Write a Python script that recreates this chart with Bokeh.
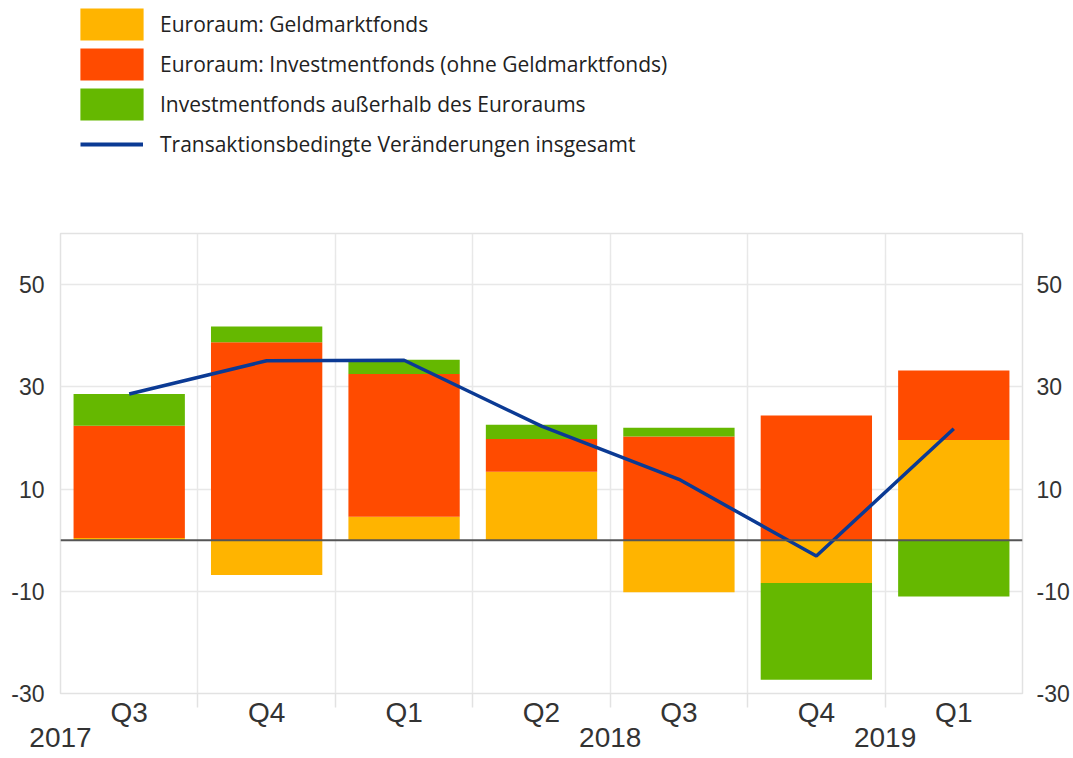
from bokeh.plotting import figure
from bokeh.layouts import column
from bokeh.models import Range1d, FixedTicker, LinearAxis, Span, Legend, LegendItem
from bokeh.embed import file_html
from bokeh.resources import INLINE

# ---- data ----
quarters = ["Q3", "Q4", "Q1", "Q2", "Q3", "Q4", "Q1"]
years = ["2017", "2018", "2019"]
year_positions = [0, 4, 6]
money_market = [0.4, -6.8, 4.6, 13.4, -10.2, -8.4, 19.6]
investment_ex_mmf = [22.0, 38.7, 27.9, 6.4, 20.3, 24.4, 13.6]
non_euro_area = [6.2, 3.1, 2.8, 2.8, 1.7, -18.9, -11.0]
total = [28.6, 35.1, 35.2, 22.3, 11.9, -3.1, 21.8]
y_tick_values = [-30, -10, 10, 30, 50]
y_tick_labels = ["-30", "-10", "10", "30", "50"]

series_names = [
    "Euroraum: Geldmarktfonds",
    "Euroraum: Investmentfonds (ohne Geldmarktfonds)",
    "Investmentfonds außerhalb des Euroraums",
]
line_name = "Transaktionsbedingte Veränderungen insgesamt"
colors = ["#FFB400", "#FF4B00", "#65B800"]
line_color = "#0B3A94"

n = len(quarters)
xs = [i + 0.5 for i in range(n)]

# ---- main chart ----
p = figure(frame_width=962, frame_height=460, output_backend="svg", toolbar_location=None,
           x_range=Range1d(0, n), y_range=Range1d(-30, 60),
           min_border_left=60, min_border_right=51, min_border_top=33, min_border_bottom=65,
           background_fill_color="white", border_fill_color="white")
p.outline_line_color = "#e2e2e2"
p.outline_line_width = 1.5

p.xgrid.ticker = FixedTicker(ticks=list(range(1, n)))
p.ygrid.ticker = FixedTicker(ticks=y_tick_values)
p.xgrid.grid_line_color = "#e8e8e8"
p.ygrid.grid_line_color = "#e8e8e8"
p.xgrid.grid_line_width = 1.5
p.ygrid.grid_line_width = 1.5

pos = [0.0] * n
neg = [0.0] * n
bar_renderers = []
for series, color in zip([money_market, investment_ex_mmf, non_euro_area], colors):
    bottoms, tops = [], []
    for i, v in enumerate(series):
        if v >= 0:
            bottoms.append(pos[i]); pos[i] += v; tops.append(pos[i])
        else:
            bottoms.append(neg[i]); neg[i] += v; tops.append(neg[i])
    r = p.vbar(x=xs, width=0.81, bottom=bottoms, top=tops, fill_color=color, line_color=None)
    bar_renderers.append(r)

zero = Span(location=0, dimension="width", line_color="#555555", line_width=2, level="glyph")
p.add_layout(zero)

lr = p.line(x=xs, y=total, line_color=line_color, line_width=3.5)

xa = p.xaxis[0]
xa.ticker = FixedTicker(ticks=xs, minor_ticks=list(range(1, n)))
xa.major_label_overrides = {x: q for x, q in zip(xs, quarters)}
xa.axis_line_color = None
xa.major_tick_out = 0
xa.major_tick_in = 0
xa.minor_tick_out = 14
xa.minor_tick_in = 0
xa.minor_tick_line_color = "#e2e2e2"
xa.minor_tick_line_width = 1.5
xa.major_label_standoff = -11
xa.major_label_text_font = "Liberation Sans"
xa.major_label_text_font_size = "28px"
xa.major_label_text_color = "#333333"

ya = LinearAxis(ticker=FixedTicker(ticks=year_positions),
                major_label_overrides={x: y for x, y in zip(year_positions, years)})
ya.axis_line_color = None
ya.major_tick_line_color = None
ya.major_tick_out = 0
ya.major_tick_in = 0
ya.minor_tick_line_color = None
ya.major_label_standoff = -3
ya.major_label_text_font = "Liberation Sans"
ya.major_label_text_font_size = "28px"
ya.major_label_text_color = "#333333"
p.add_layout(ya, "below")

right = LinearAxis()
p.add_layout(right, "right")
for axis in [p.yaxis[0], right]:
    axis.ticker = FixedTicker(ticks=y_tick_values)
    axis.major_label_overrides = {v: s for v, s in zip(y_tick_values, y_tick_labels)}
    axis.axis_line_color = None
    axis.major_tick_line_color = None
    axis.minor_tick_line_color = None
    axis.major_tick_out = 0
    axis.major_tick_in = 0
    axis.major_label_text_font = "Liberation Sans"
    axis.major_label_text_font_size = "23px"
    axis.major_label_text_color = "#333333"
p.yaxis[0].major_label_standoff = 16
right.major_label_standoff = 14

# ---- legend panel ----
lg = figure(width=1073, height=200, output_backend="svg", toolbar_location=None,
            x_axis_location=None, y_axis_location=None, min_border=0,
            x_range=Range1d(0, 1), y_range=Range1d(0, 1))
lg.outline_line_color = None
lg.xgrid.visible = False
lg.ygrid.visible = False
dummy = [lg.vbar(x=[-5], top=[-5], bottom=[-6], width=0.5, fill_color=c, line_color=None)
         for c in colors]
dline = lg.line(x=[-6, -5], y=[-6, -5], line_color=line_color, line_width=4)

common = dict(orientation="vertical", spacing=0, padding=0, margin=0,
              label_text_font="Open Sans", label_text_font_size="21px",
              label_text_color="#222222", border_line_color=None,
              background_fill_alpha=0, label_height=40, glyph_height=40)
bar_items = [LegendItem(label=nm, renderers=[r]) for nm, r in zip(series_names, dummy)]
legend_bars = Legend(items=bar_items, location=(12, 76), glyph_width=79,
                     label_standoff=9, **common)
legend_line = Legend(items=[LegendItem(label=line_name, renderers=[dline])],
                     location=(20, 36), glyph_width=63, label_standoff=17, **common)
lg.add_layout(legend_bars)
lg.add_layout(legend_line)

layout = column(lg, p, spacing=0)
open("out.html", "w").write(file_html(layout, INLINE))
